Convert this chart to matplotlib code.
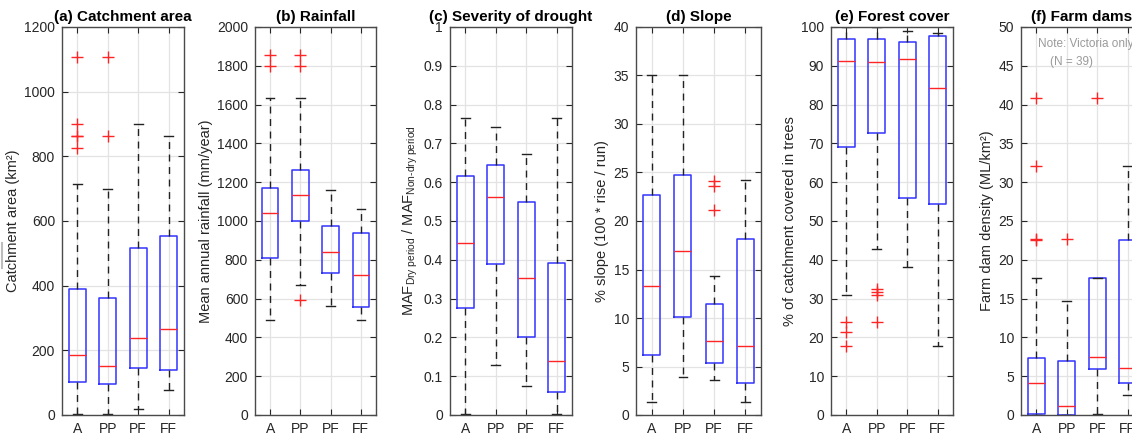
import matplotlib
matplotlib.use('Agg')
import matplotlib.pyplot as plt
from matplotlib.lines import Line2D

plt.rcParams['font.family'] = ['Liberation Sans', 'DejaVu Sans']
plt.rcParams['mathtext.fontset'] = 'custom'
plt.rcParams['mathtext.rm'] = 'Liberation Sans'
plt.rcParams['mathtext.it'] = 'Liberation Sans:italic'

groups = ['A', 'PP', 'PF', 'FF']

# each panel: whislo, q1, med, q3, whishi per group, plus outliers
area_stats = [[2, 102, 186, 390, 715], [2, 95, 153, 363, 700],
              [20, 146, 238, 516, 900], [78, 140, 267, 553, 862]]
area_out = [[825, 862, 864, 900, 1107], [862, 1107], [], []]

rain_stats = [[490, 810, 1040, 1168, 1632], [668, 1002, 1133, 1262, 1632],
              [563, 732, 842, 972, 1158], [490, 558, 720, 940, 1063]]
rain_out = [[1798, 1857], [595, 1798, 1857], [], []]

drought_stats = [[0.002, 0.275, 0.443, 0.616, 0.766], [0.13, 0.39, 0.563, 0.645, 0.741],
                 [0.074, 0.2, 0.352, 0.55, 0.673], [0.002, 0.058, 0.14, 0.393, 0.766]]
drought_out = [[], [], [], []]

slope_stats = [[1.3, 6.2, 13.3, 22.7, 35.1], [3.9, 10.1, 16.9, 24.7, 35.1],
               [3.6, 5.4, 7.6, 11.4, 14.3], [1.3, 3.3, 7.1, 18.1, 24.2]]
slope_out = [[], [], [21.1, 23.6, 24.1], []]

forest_stats = [[31, 69, 91.3, 96.8, 100], [42.8, 72.6, 91.0, 96.8, 100],
                [38.2, 55.8, 91.7, 96.2, 98.9], [17.8, 54.3, 84.2, 97.6, 98.5]]
forest_out = [[17.8, 21.3, 24], [24, 31, 31.8, 32.6], [], []]

dams_stats = [[0.05, 0.1, 4.1, 7.4, 17.6], [0, 0, 1.1, 7.0, 14.7],
              [0.1, 5.9, 7.5, 17.6, 17.6], [2.6, 4.1, 6.1, 22.6, 32.1]]
dams_out = [[22.5, 22.7, 32.1, 40.8], [22.7], [40.8], []]

panels = [
    ('(a) Catchment area', 'Catchment area (km²)', area_stats, area_out, 1200, 200),
    ('(b) Rainfall', 'Mean annual rainfall (mm/year)', rain_stats, rain_out, 2000, 200),
    ('(c) Severity of drought',
     r'MAF$_{\mathrm{Dry\ period}}$ / MAF$_{\text{Non-dry period}}$',
     drought_stats, drought_out, 1, 0.1),
    ('(d) Slope', '% slope (100 * rise / run)', slope_stats, slope_out, 40, 5),
    ('(e) Forest cover', '% of catchment covered in trees', forest_stats, forest_out, 100, 10),
    ('(f) Farm dams', 'Farm dam density (ML/km²)', dams_stats, dams_out, 50, 5),
]

W, H = 1132, 438
lefts = [62, 255, 450, 636, 831, 1021]
widths = [122, 121, 122, 125, 122, 122]
top, bottom = 27, 415

fig = plt.figure(figsize=(W / 100, H / 100), dpi=100)

for i, (title, ylab, st, out, ymax, step) in enumerate(panels):
    ax = fig.add_axes([lefts[i] / W, 1 - bottom / H, widths[i] / W, (bottom - top) / H])
    bxp = []
    for g, s, o in zip(groups, st, out):
        bxp.append({'label': g, 'whislo': s[0], 'q1': s[1], 'med': s[2],
                    'q3': s[3], 'whishi': s[4], 'fliers': o})
    ax.bxp(bxp, positions=[1, 2, 3, 4], widths=0.55, patch_artist=False,
           boxprops=dict(color='#3333ff', lw=1.1),
           medianprops=dict(color='#ff2525', lw=1.0),
           whiskerprops=dict(color='#222222', lw=1.0, ls=(0, (5, 4))),
           capprops=dict(color='#222222', lw=1.0),
           capwidths=0.28,
           flierprops=dict(marker='+', markeredgecolor='#ff2525', markersize=8,
                           markeredgewidth=1.0, linestyle='none'))
    ax.set_xlim(0.5, 4.5)
    ax.set_ylim(0, ymax)
    n = int(round(ymax / step))
    ticks = [k * step for k in range(n + 1)]
    ax.set_yticks(ticks)
    ax.set_yticklabels(['%g' % round(t, 3) for t in ticks])
    ax.set_xticks([1, 2, 3, 4])
    ax.set_xticklabels(groups)
    ax.grid(True, color='#e3e3e3', lw=0.9)
    ax.set_axisbelow(True)
    ax.tick_params(direction='in', top=True, right=True, length=4, width=0.8,
                   color='#262626', labelsize=10, labelcolor='#262626', pad=5)
    for sp in ax.spines.values():
        sp.set_color('#4a4a4a')
        sp.set_linewidth(1.0)
    ax.set_title(title, fontsize=11, fontweight='bold', pad=4)
    ax.set_ylabel(ylab, fontsize=10.5, color='#262626', labelpad=3)
    if i == 5:
        ax.text(0.14, 0.956, 'Note: Victoria only', transform=ax.transAxes,
                color='#9a9a9a', fontsize=8.5, va='center', ha='left', clip_on=False)
        ax.text(0.24, 0.91, '(N = 39)', transform=ax.transAxes,
                color='#9a9a9a', fontsize=8.5, va='center', ha='left', clip_on=False)

fig.add_artist(Line2D([2 / W, 2 / W], [1 - 243 / H, 1 - 268 / H], color='#bdbdbd', lw=1.5))

fig.savefig('out.png', dpi=100)
